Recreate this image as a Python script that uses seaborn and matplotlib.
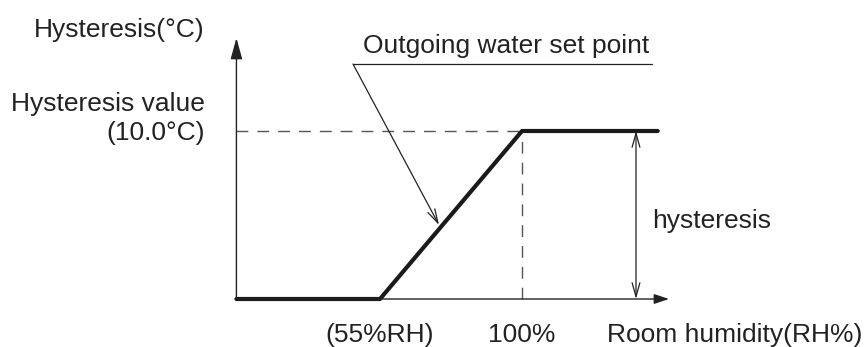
import matplotlib
matplotlib.use("Agg")
import matplotlib.pyplot as plt
from matplotlib.patches import ArrowStyle
import seaborn as sns
import pandas as pd

# ---- data ----
humidity = [9.5, 55, 100, 143]        # Room humidity (RH%)
hysteresis = [0.0, 0.0, 10.0, 10.0]   # Hysteresis (°C)
low_rh = 55
high_rh = 100
hyst_value = 10.0
x_tick_labels = ["(55%RH)", "100%"]
x_axis_label = "Room humidity(RH%)"
y_axis_label = "Hysteresis(°C)"
y_value_label = ["Hysteresis value", "(10.0°C)"]
leader_label = "Outgoing water set point"
span_label = "hysteresis"

df = pd.DataFrame({"rh": humidity, "hyst": hysteresis})

sns.set_theme(style="white")
plt.rcParams['font.family'] = ['Liberation Sans', 'DejaVu Sans']

W, H = 865, 347
fig = plt.figure(figsize=(W / 100, H / 100), dpi=100)
ax = fig.add_axes([0, 0, 1, 1])
ax.set_axis_off()

px_per_rh = 142 / 45
px_per_c = 168 / 10
x0_px = 380 - 55 * px_per_rh
y0_px = 299
ax.set_xlim(-x0_px / px_per_rh, (W - x0_px) / px_per_rh)
ax.set_ylim(-(H - y0_px) / px_per_c, y0_px / px_per_c)


def P(px, py):
    return ((px - x0_px) / px_per_rh, (y0_px - py) / px_per_c)


def F(px, py):
    return (px / W, 1 - py / H)


axc = "#222222"
x_org = humidity[0]

# dashed guides
ax.plot([x_org, high_rh], [hyst_value, hyst_value], color="#555555", lw=1.0,
        dashes=(8.5, 6.5))
ax.plot([high_rh, high_rh], [0, hyst_value], color="#555555", lw=1.0,
        dashes=(8.5, 6.5))

# axes arrows
ax.annotate("", xy=(x_org, P(0, 38)[1]), xytext=(x_org, 0),
            arrowprops=dict(arrowstyle=ArrowStyle('-|>', head_length=0.65, head_width=0.18),
                            mutation_scale=20, lw=1.0, color=axc, shrinkA=0, shrinkB=0))
ax.annotate("", xy=(P(669, 0)[0], 0), xytext=(x_org, 0),
            arrowprops=dict(arrowstyle=ArrowStyle('-|>', head_length=0.45, head_width=0.15),
                            mutation_scale=20, lw=1.0, color=axc, shrinkA=0, shrinkB=0))

# main curve
sns.lineplot(data=df, x="rh", y="hyst", ax=ax, color="#1a1a1a", lw=3.0,
             sort=False, estimator=None, legend=False)
ax.set_xlim(-x0_px / px_per_rh, (W - x0_px) / px_per_rh)
ax.set_ylim(-(H - y0_px) / px_per_c, y0_px / px_per_c)
ax.set_axis_off()

# double arrow (hysteresis span)
xs = P(636, 0)[0]
ax.annotate("", xy=(xs, hyst_value), xytext=(xs, 0),
            arrowprops=dict(arrowstyle=ArrowStyle('<->', head_length=0.5, head_width=0.14),
                            mutation_scale=20, lw=0.9, color=axc, shrinkA=0, shrinkB=0))

# leader line
u0 = P(353, 64)
u1 = P(652, 64)
ax.plot([u0[0], u1[0]], [u0[1], u1[1]], color=axc, lw=0.9)
ax.annotate("", xy=P(439, 225), xytext=u0,
            arrowprops=dict(arrowstyle=ArrowStyle('->', head_length=0.5, head_width=0.14),
                            mutation_scale=20, lw=0.9, color=axc, shrinkA=0, shrinkB=0))

fs = 19
tc = "#222222"
fig.text(*F(205, 37), y_axis_label, ha="right", va="baseline", fontsize=fs, color=tc)
fig.text(*F(205, 111), y_value_label[0], ha="right", va="baseline", fontsize=fs, color=tc)
fig.text(*F(205, 140), y_value_label[1], ha="right", va="baseline", fontsize=fs, color=tc)
fig.text(*F(363, 53), leader_label, ha="left", va="baseline", fontsize=fs, color=tc)
fig.text(*F(652, 228), span_label, ha="left", va="baseline", fontsize=fs, color=tc)
fig.text(*F(380, 342), x_tick_labels[0], ha="center", va="baseline", fontsize=fs, color=tc)
fig.text(*F(522, 342), x_tick_labels[1], ha="center", va="baseline", fontsize=fs, color=tc)
fig.text(*F(862, 342), x_axis_label, ha="right", va="baseline", fontsize=fs, color=tc)

fig.savefig("out.png", dpi=100, facecolor="white")
